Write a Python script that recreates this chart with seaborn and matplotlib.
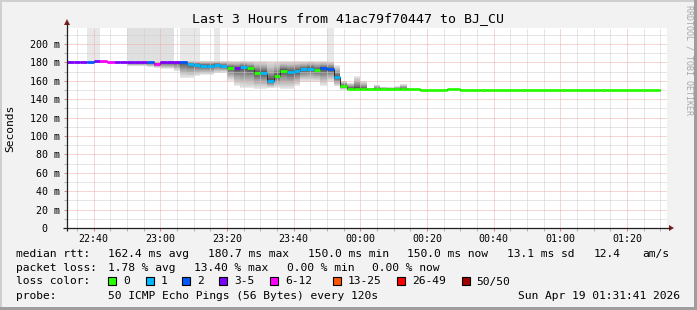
import numpy as np
import pandas as pd
import matplotlib
matplotlib.use("Agg")
import matplotlib.pyplot as plt
import matplotlib.dates as mdates
from matplotlib.patches import Rectangle, Polygon
from matplotlib.ticker import FixedLocator
import seaborn as sns

# ---------------- data ----------------
start = pd.Timestamp("2026-04-18 22:32")
end = pd.Timestamp("2026-04-19 01:32")
bin_times = pd.date_range(start, periods=89, freq="2min")

median_ms = [180, 180, 180, 180, 181, 181, 180, 180, 180, 180,
             180, 180, 180, 178.5, 180, 180, 180, 180, 178.5, 177.5,
             176.5, 176.5, 177.5, 176, 174, 173.4, 175, 173.4, 168.8, 168.8,
             159.8, 165.2, 171, 169.6, 170.5, 172.3, 173.2, 171.7, 173.4, 172.5,
             164, 154.3, 151.5, 151.5, 151, 151, 151, 151, 151, 151,
             151, 151, 151, 150, 150, 150, 150, 151.5, 151.5, 150,
             150, 150, 150, 150, 150, 150, 150, 150, 150, 150,
             150, 150, 150, 150, 150, 150, 150, 150, 150, 150,
             150, 150, 150, 150, 150, 150, 150, 150, 150]

# loss class index: 0 -> "0", 1 -> "1", 2 -> "2", 3 -> "3-5", 4 -> "6-12"
loss_class = [3, 3, 3, 2, 3, 4, 4, 3, 3, 3,
              3, 3, 2, 4, 3, 3, 3, 2, 1, 1,
              1, 1, 1, 1, 0, 3, 1, 0, 0, 1,
              1, 0, 0, 1, 1, 1, 1, 0, 2, 2,
              1, 0, 0, 0, 0, 0, 0, 0, 0, 0,
              0, 0, 0, 0, 0, 0, 0, 0, 0, 0,
              0, 0, 0, 0, 0, 0, 0, 0, 0, 0,
              0, 0, 0, 0, 0, 0, 0, 0, 0, 0,
              0, 0, 0, 0, 0, 0, 0, 0, 0]

smoke_low_ms = [179, 179, 179, 179, 179, 179, 179, 179, 179, 176,
                176, 176, 175, 174, 173, 173, 170.6, 163, 163, 165,
                166.3, 166.3, 168, 169, 160, 154.3, 151.8, 151.8, 150.7, 150.7,
                152, 152.5, 150.7, 150.7, 154, 159, 159, 159, 154, 159,
                154, 150.5, 150, 150.5, 150.5, 150.5, 150.5, 150.5, 150.5, 150.5,
                150.5, 150.5, 150.5, 149.5, 149.5, 149.5, 149.5, 151, 151, 149.5,
                149.5, 149.5, 149.5, 149.5, 149.5, 149.5, 149.5, 149.5, 149.5, 149.5,
                149.5, 149.5, 149.5, 149.5, 149.5, 149.5, 149.5, 149.5, 149.5, 149.5,
                149.5, 149.5, 149.5, 149.5, 149.5, 149.5, 149.5, 149.5, 149.5]

smoke_high_ms = [181, 181, 181, 181, 182, 182, 181, 181, 181, 181,
                 181, 181, 181, 181, 181.5, 181.5, 181.5, 182, 182, 182,
                 182, 182, 182, 182, 182, 182, 182, 182, 182, 182,
                 182, 182, 182, 182, 182, 182, 182, 182, 182, 182,
                 177, 160, 158, 165, 160, 152, 155.8, 153.6, 153, 154,
                 156.5, 152, 151.5, 150, 150, 150, 150, 151.5, 151.5, 150,
                 150, 150, 150, 150, 150, 150, 150, 150, 150, 150,
                 150, 150, 150, 150, 150, 150, 150, 150, 150, 150,
                 150, 150, 150, 150, 150, 150, 150, 150, 150]

# number of outermost ping pairs that went above the top of the graph
off_scale_pairs = [0, 0, 0, 1, 1, 0, 0, 0, 0, 2,
                   2, 2, 2, 2, 2, 2, 0, 1, 1, 1,
                   0, 0, 1, 0, 0, 0, 0, 0, 0, 0,
                   0, 0, 0, 0, 0, 0, 0, 0, 0, 1,
                   0, 0, 0, 0, 0, 0, 0, 0, 0, 0,
                   0, 0, 0, 0, 0, 0, 0, 0, 0, 0,
                   0, 0, 0, 0, 0, 0, 0, 0, 0, 0,
                   0, 0, 0, 0, 0, 0, 0, 0, 0, 0,
                   0, 0, 0, 0, 0, 0, 0, 0, 0]

loss_labels = ["0", "1", "2", "3-5", "6-12", "13-25", "26-49", "50/50"]
loss_colors = ["#26ff00", "#00b8ff", "#0059ff", "#7e00ff",
               "#ff00ff", "#ff5500", "#ff0000", "#a10000"]

y_ticks_ms = [0, 20, 40, 60, 80, 100, 120, 140, 160, 180, 200]
y_minor_ms = [10, 30, 50, 70, 90, 110, 130, 150, 170, 190, 210]
y_tick_labels = ["0  ", "20 m", "40 m", "60 m", "80 m", "100 m", "120 m",
                 "140 m", "160 m", "180 m", "200 m"]

title = "Last 3 Hours from 41ac79f70447 to BJ_CU"
stats_rtt = [("median rtt:", 16), ("162.4 ms avg", 107.7), ("180.7 ms max", 207.7),
             ("150.0 ms min", 307.7), ("150.0 ms now", 407), ("13.1 ms sd", 506.7),
             ("12.4", 593.3), ("am/s", 642.3)]
stats_loss = [("packet loss:", 16), ("1.78 % avg", 107.7), ("13.40 % max", 194),
              ("0.00 % min", 286.7), ("0.00 % now", 372.3)]
legend_text_x = [123.3, 160.7, 197.3, 234.3, 285, 347.7, 411.7, 476.7]
probe_text = "50 ICMP Echo Pings (56 Bytes) every 120s"
stamp = "Sun Apr 19 01:31:41 2026"

# ---------------- figure ----------------
W, H = 697, 310
BG = "#f2f2f2"
plt.rcParams["font.family"] = ["DejaVu Sans Mono"]
fig = plt.figure(figsize=(W / 100, H / 100), dpi=100, facecolor=BG)

L, R, T, B = 67, 667, 28, 228
ax = fig.add_axes([L / W, (H - B) / H, (R - L) / W, (B - T) / H])
ax.set_facecolor("white")
ymax = 200 / 0.92
ax.set_ylim(0, ymax)
ax.set_xlim(start, end)

edges = list(bin_times) + [bin_times[-1] + pd.Timedelta(minutes=2)]
med = np.array(median_ms, dtype=float)
lo = np.array(smoke_low_ms, dtype=float)
hi = np.array(smoke_high_ms, dtype=float)
spk = np.array(off_scale_pairs)

def ext(a):
    return np.append(a, a[-1])

# smoke: 24 nested ping pairs, outer = light, inner = dark
half = 25
for k in range(1, 25):
    shade = int(190 / half * (half - k)) + 50
    col = "#%02x%02x%02x" % (shade, shade, shade)
    frac = ((half - k) / (half - 1)) ** 1.5
    lower = med - (med - lo) * frac
    upper = med + (hi - med) * frac
    upper = np.where(spk >= k, ymax * 1.2, upper)
    ax.fill_between(edges, ext(lower), ext(upper), step="post", color=col,
                    lw=0, antialiased=False, zorder=1)

# grid drawn manually (dotted), on top of smoke
minor_c = "#cdcdcd"
major_c = "#f0adad"
maj_t = pd.date_range("2026-04-18 22:40", "2026-04-19 01:20", freq="20min")
min_t = [t for t in pd.date_range("2026-04-18 22:35", "2026-04-19 01:30", freq="5min")
         if t.minute % 20 != 0]
gkw = dict(lw=0.72, ls=(0, (1, 1)))
for t in min_t:
    ax.axvline(t, color=minor_c, zorder=2.5, **gkw)
for v in y_minor_ms:
    ax.axhline(v, color=minor_c, zorder=2.5, **gkw)
for t in maj_t:
    ax.axvline(t, color=major_c, zorder=2.6, **gkw)
for v in y_ticks_ms[1:]:
    ax.axhline(v, color=major_c, zorder=2.6, **gkw)

# connectors between steps
ax.step(edges, ext(med), where="post", color="#303030", lw=0.7, zorder=3)

# colored median segments via seaborn
rows = []
for i, t in enumerate(bin_times):
    lab = loss_labels[loss_class[i]]
    rows.append({"t": t, "ms": med[i], "bin": i, "loss": lab})
    rows.append({"t": t + pd.Timedelta(minutes=2), "ms": med[i], "bin": i, "loss": lab})
df = pd.DataFrame(rows)
sns.lineplot(data=df, x="t", y="ms", hue="loss", units="bin", estimator=None,
             palette=dict(zip(loss_labels, loss_colors)), legend=False,
             lw=2, ax=ax, zorder=4, solid_capstyle="butt")

ax.set_xlim(start, end)
ax.set_ylim(0, ymax)
ax.xaxis.set_major_locator(mdates.MinuteLocator(byminute=[0, 20, 40]))
ax.xaxis.set_minor_locator(mdates.MinuteLocator(byminute=range(0, 60, 5)))
ax.xaxis.set_major_formatter(mdates.DateFormatter("%H:%M"))
ax.yaxis.set_major_locator(FixedLocator(y_ticks_ms))
ax.yaxis.set_minor_locator(FixedLocator(y_minor_ms))
ax.set_yticklabels(y_tick_labels)
ax.tick_params(which="major", length=2, width=0.72, color="#e08080", direction="out",
               labelsize=7.2, pad=3)
ax.tick_params(which="minor", length=2, width=0.72, color="#b0b0b0", direction="out")
ax.tick_params(axis="x", which="major", pad=2.5)
for s in ax.spines.values():
    s.set_visible(False)
ax.set_xlabel("")
ax.set_ylabel("")

# overlay in pixel coords
ov = fig.add_axes([0, 0, 1, 1], facecolor="none")
ov.set_xlim(0, W)
ov.set_ylim(H, 0)
ov.axis("off")
ov.set_zorder(10)

axis_c = "#1f1f1f"
arrow_c = "#801f1f"
ov.plot([L, L], [B + 3, T - 5], color=axis_c, lw=0.9, solid_capstyle="butt")
ov.plot([L - 4, R + 3], [B, B], color=axis_c, lw=0.9, solid_capstyle="butt")
ov.add_patch(Polygon([[L - 3, T - 3], [L + 3, T - 3], [L, T - 9]], closed=True,
                     color=arrow_c, lw=0))
ov.add_patch(Polygon([[R + 2, B - 3], [R + 2, B + 3], [R + 7, B]], closed=True,
                     color=arrow_c, lw=0))

# frame shading
ov.add_patch(Rectangle((0, 0), W, 2, color="#cfcfcf", lw=0))
ov.add_patch(Rectangle((0, 0), 2, H, color="#cfcfcf", lw=0))
ov.add_patch(Rectangle((0, H - 3), W, 3, color="#9e9e9e", lw=0))
ov.add_patch(Rectangle((W - 3, 0), 3, H, color="#9e9e9e", lw=0))

# texts
ov.text(348, 19, title, ha="center", va="center", fontsize=9.5)
ov.text(10, 128, "Seconds", ha="center", va="center", rotation=90, fontsize=8.1)
ov.text(689, 60, "RRDTOOL / TOBI OETIKER", ha="center", va="center",
        rotation=270, fontsize=6, color="#a8a8a8")

fs = 8.1
for txt, x in stats_rtt:
    ov.text(x, 254, txt, ha="left", va="center", fontsize=fs)
for txt, x in stats_loss:
    ov.text(x, 268, txt, ha="left", va="center", fontsize=fs)
ov.text(16, 281.5, "loss color:", ha="left", va="center", fontsize=fs)
for lab, col, x in zip(loss_labels, loss_colors, legend_text_x):
    ov.add_patch(Rectangle((x - 15, 277), 8, 8, facecolor=col, edgecolor="black", lw=0.8))
    ov.text(x, 281.5, lab, ha="left", va="center", fontsize=fs)
ov.text(16, 296, "probe:", ha="left", va="center", fontsize=fs)
ov.text(107.7, 296, probe_text, ha="left", va="center", fontsize=fs)
ov.text(680, 296, stamp, ha="right", va="center", fontsize=fs)

fig.savefig("out.png", dpi=100, facecolor=BG)
